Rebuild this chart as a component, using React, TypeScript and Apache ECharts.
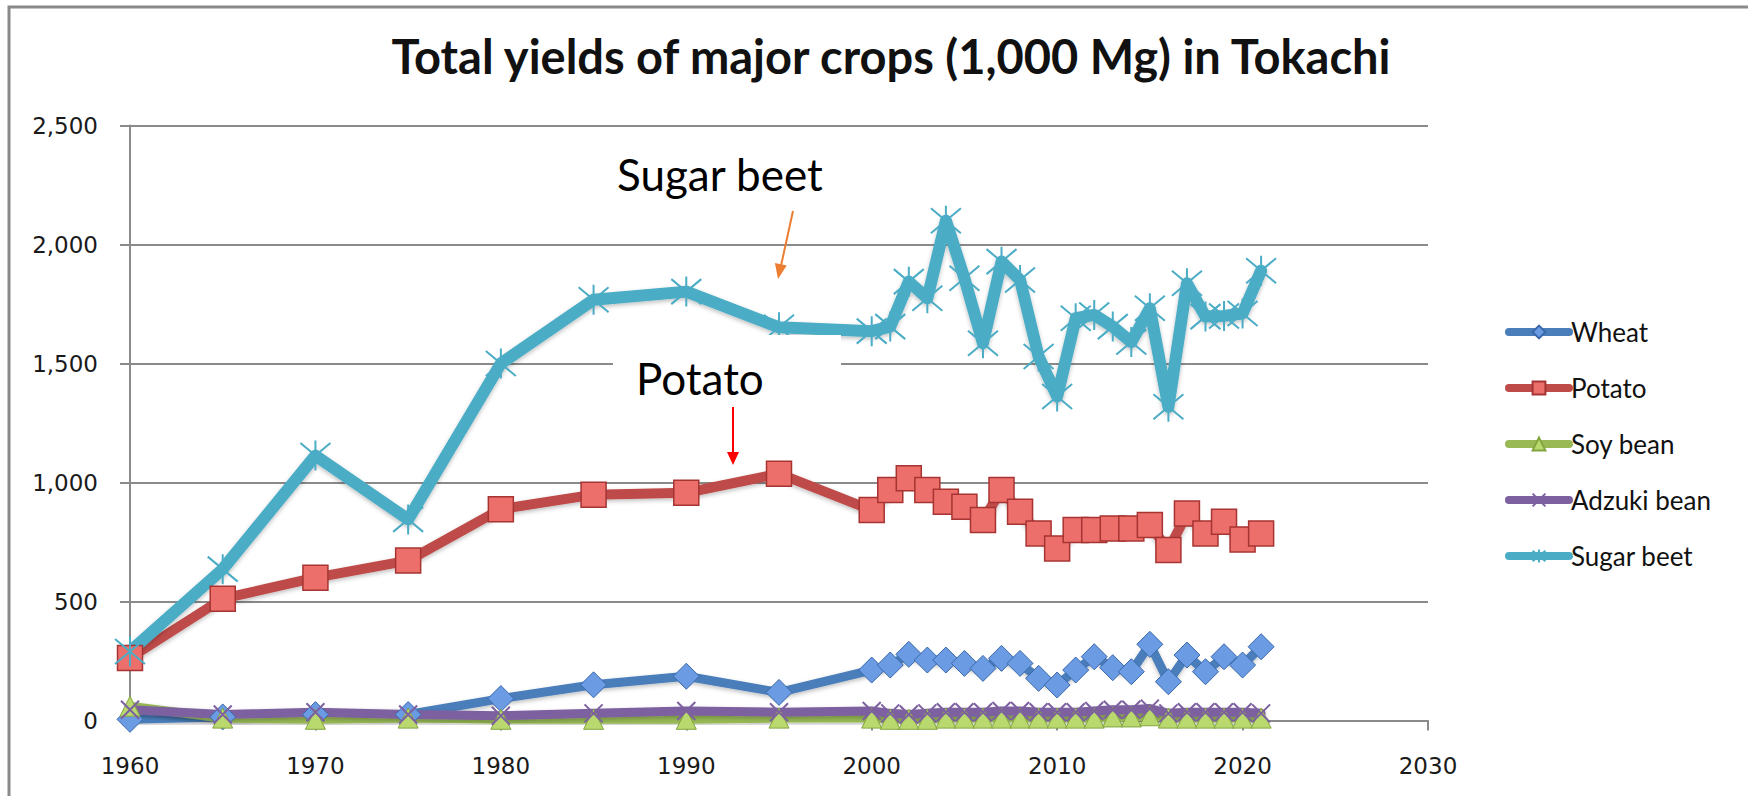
import React, { useEffect, useRef } from "react";
import * as echarts from "echarts";

const years = [1960, 1965, 1970, 1975, 1980, 1985, 1990, 1995, 2000, 2001, 2002, 2003, 2004, 2005, 2006, 2007, 2008, 2009, 2010, 2011, 2012, 2013, 2014, 2015, 2016, 2017, 2018, 2019, 2020, 2021];
const wheat = [5, 15, 25, 25, 92, 150, 186, 118, 212, 233, 278, 254, 254, 240, 219, 261, 240, 177, 149, 212, 268, 222, 205, 320, 163, 275, 205, 268, 233, 310];
const potato = [263, 512, 600, 672, 888, 949, 957, 1037, 884, 968, 1018, 968, 919, 898, 842, 968, 877, 786, 723, 800, 800, 807, 807, 821, 716, 870, 786, 835, 761, 786];
const soyBean = [60, 10, 5, 10, 5, 5, 5, 10, 10, 5, 5, 5, 10, 10, 10, 10, 10, 10, 10, 10, 10, 15, 15, 20, 10, 10, 10, 10, 10, 10];
const adzukiBean = [45, 25, 35, 25, 20, 30, 40, 35, 40, 30, 25, 30, 35, 35, 35, 40, 40, 35, 35, 35, 40, 45, 45, 50, 30, 35, 35, 35, 35, 30];
const sugarBeet = [290, 636, 1113, 845, 1500, 1768, 1802, 1652, 1636, 1655, 1844, 1774, 2100, 1858, 1585, 1928, 1851, 1529, 1361, 1690, 1704, 1655, 1590, 1732, 1318, 1837, 1697, 1700, 1710, 1890];

const seriesNames = ["Wheat", "Potato", "Soy bean", "Adzuki bean", "Sugar beet"];
const titleText = "Total yields of major crops (1,000 Mg) in Tokachi";

const X_PATH = "path://M0 0L10 10M10 0L0 10";
const STAR_PATH = "path://M0 0L10 10M10 0L0 10M5 -1L5 11";

function pairs(vals: number[]) {
  return years.map((y, i) => [y, vals[i]]);
}

export default function App() {
  const ref = useRef<HTMLDivElement>(null);
  useEffect(() => {
    if (!ref.current) return;
    const chart = echarts.init(ref.current, undefined, { renderer: "svg" });
    const labelFont = "DejaVu Sans";
    const mk = (
      name: string,
      vals: number[],
      lineColor: string,
      width: number,
      symbol: string,
      size: number,
      fill: string,
      border: string,
      bw: number
    ) => ({
      name,
      type: "line",
      data: pairs(vals),
      symbol,
      symbolSize: size,
      showAllSymbol: true,
      lineStyle: {
        color: lineColor,
        width,
        cap: "round",
        join: "round",
        shadowColor: "rgba(0,0,0,0.25)",
        shadowBlur: 4,
        shadowOffsetY: 2,
      },
      itemStyle: { color: fill, borderColor: border, borderWidth: bw },
      emphasis: { disabled: true },
    });
    chart.setOption({
      animation: false,
      backgroundColor: "#ffffff",
      title: {
        text: titleText,
        left: 886,
        top: 27,
        textAlign: "center",
        textStyle: { fontFamily: "Lato", fontWeight: "bold", fontSize: 47, color: "#111" },
      },
      legend: {
        orient: "vertical",
        left: 1500,
        top: 314,
        itemWidth: 60,
        itemHeight: 16,
        itemGap: 30,
        data: seriesNames,
        lineStyle: { width: 8 },
        textStyle: { fontFamily: "Lato", fontSize: 26, color: "#111", lineHeight: 26, padding: [0, 0, 0, -3] },
      },
      grid: { left: 130, right: 320, top: 125.5, bottom: 75.5, containLabel: false },
      xAxis: {
        type: "value",
        min: 1960,
        max: 2030,
        interval: 10,
        axisLine: { show: true, onZero: false, lineStyle: { color: "#8a8a8a", width: 2 } },
        axisTick: { show: true, length: 10, lineStyle: { color: "#8a8a8a", width: 2 } },
        splitLine: { show: false },
        axisLabel: { fontFamily: labelFont, fontSize: 23, color: "#1a1a1a", margin: 34, formatter: (v: number) => String(v) },
      },
      yAxis: {
        type: "value",
        min: 0,
        max: 2500,
        interval: 500,
        axisLine: { show: true, lineStyle: { color: "#8a8a8a", width: 2 } },
        axisTick: { show: true, length: 10, lineStyle: { color: "#8a8a8a", width: 2 } },
        splitLine: { show: true, lineStyle: { color: "#8a8a8a", width: 2 } },
        axisLabel: {
          fontFamily: labelFont,
          fontSize: 23,
          color: "#1a1a1a",
          margin: 32,
          formatter: (v: number) => v.toLocaleString("en-US"),
        },
      },
      series: [
        mk("Wheat", wheat, "#4A7EBB", 9, "diamond", 26, "#6A9BE3", "#3A68AA", 1),
        mk("Potato", potato, "#BE4B48", 10, "rect", 25, "#EC6F6B", "#A63432", 1.5),
        mk("Soy bean", soyBean, "#98B954", 9, "triangle", 20, "#B9D86E", "#83A540", 1),
        mk("Adzuki bean", adzukiBean, "#7D60A0", 9, X_PATH, 18, "rgba(0,0,0,0)", "#7D60A0", 2),
        mk("Sugar beet", sugarBeet, "#4BACC6", 12, STAR_PATH, 30, "rgba(0,0,0,0)", "#4BACC6", 2),
      ],
      graphic: [
        { type: "rect", shape: { x: 9, y: 7, width: 2000, height: 1000 }, style: { fill: "none", stroke: "#8a8a8a", lineWidth: 3 }, z: 0, silent: true },
        { type: "rect", shape: { x: 613, y: 335, width: 228, height: 75 }, style: { fill: "#ffffff" }, z: 100, silent: true },
        {
          type: "text",
          x: 617,
          y: 174,
          z: 101,
          style: { text: "Sugar beet", fontFamily: "Lato", fontSize: 44, fill: "#000", textVerticalAlign: "middle" },
        },
        {
          type: "text",
          x: 636,
          y: 378,
          z: 101,
          style: { text: "Potato", fontFamily: "Lato", fontSize: 44, fill: "#000", textVerticalAlign: "middle" },
        },
        { type: "line", shape: { x1: 793, y1: 211, x2: 780.5, y2: 268 }, style: { stroke: "#ED7D31", lineWidth: 2 }, z: 101 },
        { type: "polygon", shape: { points: [[778, 279], [786.7, 265.6], [774.9, 263]] }, style: { fill: "#ED7D31" }, z: 101 },
        { type: "line", shape: { x1: 733, y1: 407, x2: 733, y2: 455 }, style: { stroke: "#FF0000", lineWidth: 2 }, z: 101 },
        { type: "polygon", shape: { points: [[733, 465], [727, 452], [739, 452]] }, style: { fill: "#FF0000" }, z: 101 },
      ],
    });
    return () => chart.dispose();
  }, []);
  return (
    <div
      ref={ref}
      style={{ position: "absolute", left: 0, top: 0, width: 1748, height: 796, background: "#fff" }}
    />
  );
}
